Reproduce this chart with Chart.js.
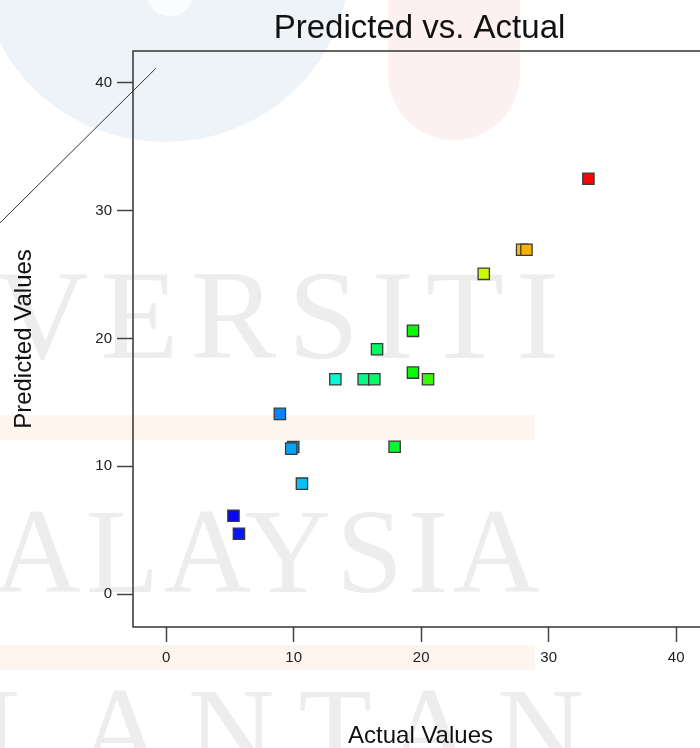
<!DOCTYPE html>
<html>
<head>
<meta charset="utf-8">
<title>Predicted vs. Actual</title>
<script src="https://cdn.jsdelivr.net/npm/chart.js@4.4.1/dist/chart.umd.min.js"></script>
<style>
  html, body { margin: 0; padding: 0; background: #fff; overflow: hidden; }
  #wrap { position: relative; width: 700px; height: 748px; overflow: hidden; }
  .wm { position: absolute; }
  .blob-blue { left: -20px; top: -220px; width: 370px; height: 362px; border-radius: 50%; background: #eef3f8; }
  .blob-notch { left: 148px; top: -20px; width: 44px; height: 36px; border-radius: 50%; background: #fbfcfd; }
  .blob-pink { left: 388px; top: -60px; width: 132px; height: 200px; border-radius: 66px; background: #fdf0f0; }
  .band { left: 0; width: 535px; height: 25px; background: #fdf5ee; }
  .wm-text { font-family: 'Liberation Serif', 'DejaVu Serif', serif; color: #ededed; white-space: nowrap; line-height: 1; }
  canvas { position: absolute; left: 0; top: 0; }
</style>
</head>
<body>
<div id="wrap">
  <div class="wm blob-blue"></div>
  <div class="wm blob-notch"></div>
  <div class="wm blob-pink"></div>
  <div class="wm band" style="top:415px"></div>
  <div class="wm band" style="top:645px"></div>
  <div class="wm wm-text" style="left:-4px; top:251px; font-size:128px; letter-spacing:12px">VERSITI</div>
  <div class="wm wm-text" style="left:-6px; top:492px; font-size:120px; letter-spacing:5px">ALAYSIA</div>
  <div class="wm wm-text" style="left:-20px; top:671px; font-size:120px; letter-spacing:24px">LANTAN</div>
  <canvas id="pvaChart" width="720" height="748"></canvas>
</div>
<script>
// ── Data ──────────────────────────────────────────────────────────────────────

const actualValues    = [5.28, 5.71, 8.92, 9.97, 9.81, 10.65, 13.27, 15.49, 16.33,
                         16.54, 17.92, 19.36, 19.36, 20.54, 24.91, 27.92, 28.26, 33.12];
const predictedValues = [6.13, 4.72, 14.10, 11.51, 11.38, 8.64, 16.81, 16.81, 16.81,
                         19.16, 11.53, 20.60, 17.33, 16.81, 25.06, 26.94, 26.94, 32.50];

// 45° reference line (as it sits in the picture)
const refLineX = [-13.03, -0.81];
const refLineY = [29.05, 41.14];

const tickValues = [0, 10, 20, 30, 40];

const chartTitle  = 'Predicted vs. Actual';
const xAxisTitle  = 'Actual Values';
const yAxisTitle  = 'Predicted Values';
const FONT        = "'Liberation Sans', Arial, sans-serif";

// ── Helpers ───────────────────────────────────────────────────────────────────

// blue (low) → red (high), like the design software's colour map
function valueColor(v) {
  const lo = Math.min(...actualValues);
  const hi = Math.max(...actualValues);
  const hue = 240 * (1 - (v - lo) / (hi - lo));
  return `hsl(${hue.toFixed(0)}, 95%, 50%)`;
}

const points  = actualValues.map((a, i) => ({ x: a, y: predictedValues[i] }));
const refLine = refLineX.map((x, i) => ({ x, y: refLineY[i] }));

// frame around the plot + title centred over the plot box
const framePlugin = {
  id: 'frame',
  afterDraw(chart) {
    const { ctx, chartArea: a } = chart;
    ctx.save();
    ctx.strokeStyle = '#333';
    ctx.lineWidth = 1.5;
    ctx.strokeRect(a.left, a.top, a.right - a.left, a.bottom - a.top);
    ctx.fillStyle = '#111';
    ctx.font = `33px ${FONT}`;
    ctx.textAlign = 'center';
    ctx.textBaseline = 'alphabetic';
    ctx.fillText(chartTitle, (a.left + a.right) / 2 - 1, 38);
    ctx.restore();
  }
};

// ── Chart ─────────────────────────────────────────────────────────────────────

const ctx = document.getElementById('pvaChart').getContext('2d');
new Chart(ctx, {
  type: 'scatter',
  data: {
    datasets: [
      {
        type: 'line',
        data: refLine,
        borderColor: '#333',
        borderWidth: 1,
        pointRadius: 0,
        clip: false,
        order: 2
      },
      {
        data: points,
        pointStyle: 'rect',
        pointRadius: 8,
        backgroundColor: actualValues.map(valueColor),
        borderColor: '#3a3a3a',
        borderWidth: 1.3,
        order: 1
      }
    ]
  },
  options: {
    responsive: false,
    animation: false,
    layout: { padding: { top: 51, right: 12, bottom: 0, left: 0 } },
    plugins: {
      legend: { display: false },
      tooltip: { enabled: false }
    },
    scales: {
      x: {
        type: 'linear',
        min: -2.6, max: 42.5,
        afterBuildTicks: axis => { axis.ticks = tickValues.map(v => ({ value: v })); },
        afterFit: axis => { axis.height = 121; },
        grid: { drawOnChartArea: false, drawTicks: true, tickLength: 15, tickColor: '#444', tickWidth: 1.5 },
        border: { display: false },
        ticks: { color: '#222', font: { family: FONT, size: 15 }, padding: 7, maxRotation: 0 },
        title: { display: true, text: xAxisTitle, color: '#111', font: { family: FONT, size: 24, lineHeight: 1 }, padding: { top: 0, bottom: 0 } }
      },
      y: {
        type: 'linear',
        min: -2.58, max: 42.5,
        afterBuildTicks: axis => { axis.ticks = tickValues.map(v => ({ value: v })); },
        afterFit: axis => { axis.width = 133; },
        grid: { drawOnChartArea: false, drawTicks: true, tickLength: 16, tickColor: '#444', tickWidth: 1.5 },
        border: { display: false },
        ticks: { color: '#222', font: { family: FONT, size: 15 }, padding: 5 },
        title: { display: true, text: yAxisTitle, color: '#111', font: { family: FONT, size: 24 }, padding: { top: 10, bottom: 0 } }
      }
    }
  },
  plugins: [framePlugin]
});
</script>
</body>
</html>
